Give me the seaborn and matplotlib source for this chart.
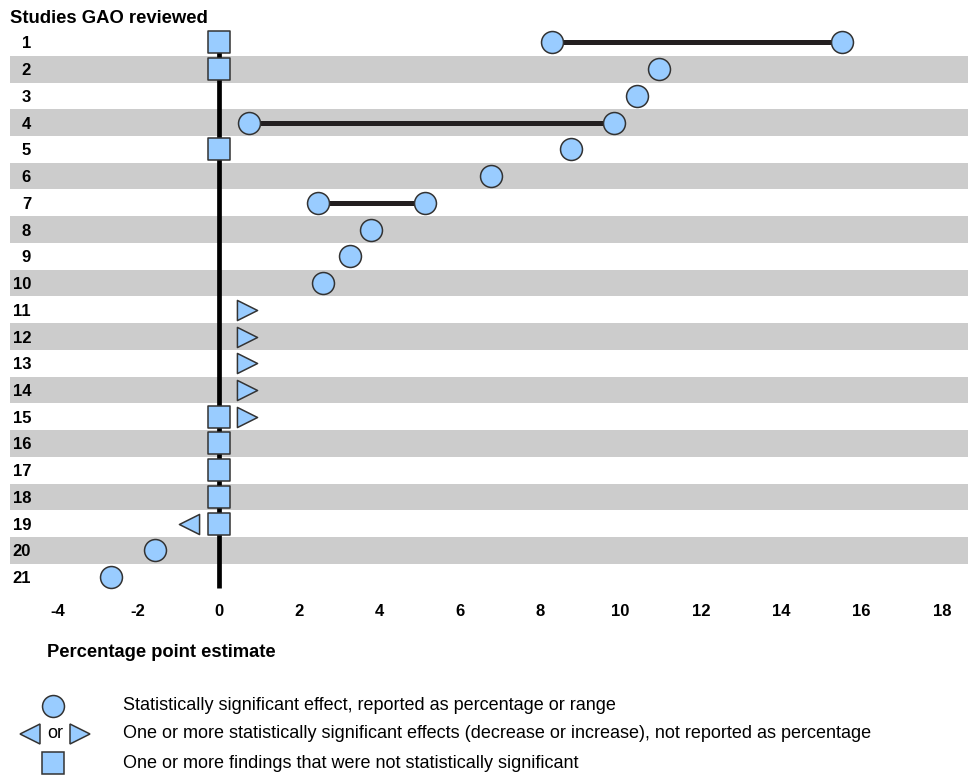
import matplotlib
matplotlib.use("Agg")
import matplotlib.pyplot as plt
import seaborn as sns
import numpy as np
import pandas as pd

# ---------------- data ----------------
study_rows = list(range(1, 22))
study_labels = [str(r) for r in study_rows]

# statistically significant effects reported as percentage (circles)
circle_rows = [1, 1, 2, 3, 4, 4, 5, 6, 7, 7, 8, 9, 10, 20, 21]
circle_vals = [8.3, 15.5, 10.95, 10.4, 0.77, 9.83, 8.76, 6.77, 2.47, 5.13,
               3.80, 3.28, 2.60, -1.57, -2.67]

# reported ranges (lines joining circles)
range_rows = [1, 4, 7]
range_lo = [8.3, 0.77, 2.47]
range_hi = [15.5, 9.83, 5.13]

# not statistically significant (squares)
square_rows = [1, 2, 5, 15, 16, 17, 18, 19]
square_vals = [0, 0, 0, 0, 0, 0, 0, 0]

# significant, not reported as percentage: increase / decrease (triangles)
increase_rows = [11, 12, 13, 14, 15]
increase_vals = [0.7, 0.7, 0.7, 0.7, 0.7]
decrease_rows = [19]
decrease_vals = [-0.73]

x_ticks = [-4, -2, 0, 2, 4, 6, 8, 10, 12, 14, 16, 18]

title_text = "Studies GAO reviewed"
xlabel_text = "Percentage point estimate"
legend_texts = [
    "Statistically significant effect, reported as percentage or range",
    "One or more statistically significant effects (decrease or increase), not reported as percentage",
    "One or more findings that were not statistically significant",
]

# ---------------- style ----------------
sns.set_style("white")
plt.rcParams["font.family"] = ["Liberation Sans", "DejaVu Sans"]
plt.rcParams["text.color"] = "black"
plt.rcParams["xtick.color"] = "black"
plt.rcParams["ytick.color"] = "black"

FILL = "#99ccff"
EDGE = "#333333"
LINE = "#231f20"
BAND = "#cccccc"

W, H = 972, 778
fig = plt.figure(figsize=(W / 100, H / 100), dpi=100)

def px_axes(l, t, r, b):
    return fig.add_axes([l / W, 1 - b / H, (r - l) / W, (b - t) / H])

ax = px_axes(10, 29.1, 968, 590.5)
ppu = 40.2
x0 = 218.5
xlim = ((10 - x0) / ppu, (968 - x0) / ppu)

# alternating bands
for r in study_rows:
    if r % 2 == 0:
        ax.axhspan(r - 0.5, r + 0.5, color=BAND, lw=0, zorder=0)

# zero reference line
ax.plot([0, 0], [study_rows[0], study_rows[-1] + 0.4], color="black",
        lw=3.4, solid_capstyle="butt", zorder=1)

# range lines
ax.hlines(range_rows, range_lo, range_hi, color=LINE, lw=3.6, zorder=2)

ms_c, ms_s, ms_t = 15.8, 15.5, 14.5
sns.scatterplot(x=circle_vals, y=circle_rows, marker="o", s=ms_c ** 2,
                color=FILL, edgecolor=EDGE, linewidth=1.1, ax=ax, zorder=3)
sns.scatterplot(x=square_vals, y=square_rows, marker="s", s=ms_s ** 2,
                color=FILL, edgecolor=EDGE, linewidth=1.1, ax=ax, zorder=3)
sns.scatterplot(x=increase_vals, y=increase_rows, marker=">", s=ms_t ** 2,
                color=FILL, edgecolor=EDGE, linewidth=1.1, ax=ax, zorder=3)
sns.scatterplot(x=decrease_vals, y=decrease_rows, marker="<", s=ms_t ** 2,
                color=FILL, edgecolor=EDGE, linewidth=1.1, ax=ax, zorder=3)

ax.set_xlim(*xlim)
ax.set_ylim(21.5, 0.5)

ax.set_yticks(study_rows, study_labels)
ax.set_xticks(x_ticks, [str(t) for t in x_ticks])
ax.tick_params(axis="y", length=0, pad=-15.2, labelsize=12)
ax.tick_params(axis="x", length=0, pad=10, labelsize=12)
for lab in ax.get_yticklabels():
    lab.set_fontweight("bold")
    lab.set_ha("right")
for lab in ax.get_xticklabels():
    lab.set_fontweight("bold")
for s in ax.spines.values():
    s.set_visible(False)
ax.set_xlabel("")
ax.set_ylabel("")
ax.grid(False)
ax.set_facecolor("none")

# titles
fig.text(10 / W, 1 - 23.3 / H, title_text, fontsize=13.3, fontweight="bold",
         ha="left", va="baseline")
fig.text(47 / W, 1 - 657 / H, xlabel_text, fontsize=13.2, fontweight="bold",
         ha="left", va="baseline")

# legend (drawn in pixel-coordinate overlay)
lg = fig.add_axes([0, 0, 1, 1])
lg.set_xlim(0, W)
lg.set_ylim(H, 0)
lg.axis("off")
lg.plot([53], [706], marker="o", ms=ms_c, mfc=FILL, mec=EDGE, mew=1.1, ls="none")
lg.plot([30], [734], marker="<", ms=ms_t, mfc=FILL, mec=EDGE, mew=1.1, ls="none")
lg.plot([80], [734], marker=">", ms=ms_t, mfc=FILL, mec=EDGE, mew=1.1, ls="none")
lg.text(55, 734, "or", fontsize=13, ha="center", va="center")
lg.plot([53], [763], marker="s", ms=ms_s, mfc=FILL, mec=EDGE, mew=1.1, ls="none")
for yy, t in zip([706, 734, 763], legend_texts):
    lg.text(123, yy, t, fontsize=13, ha="left", va="center")

fig.savefig("out.png", dpi=100)
